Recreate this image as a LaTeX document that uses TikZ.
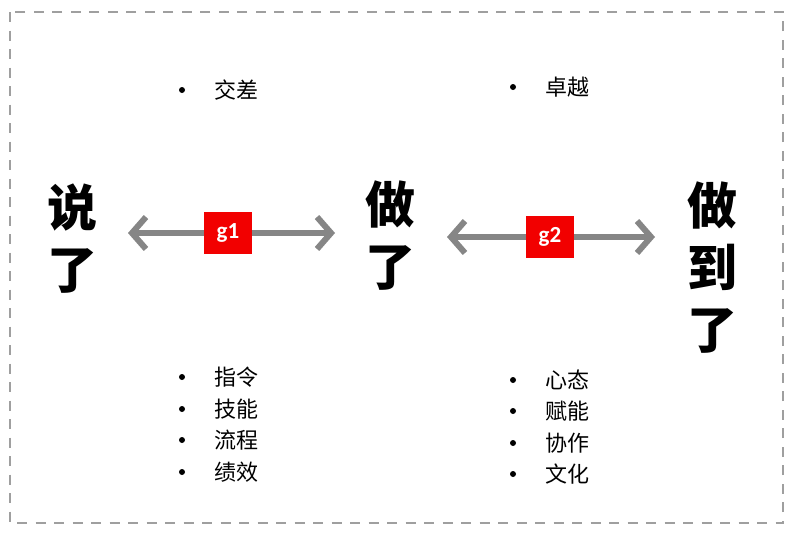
\documentclass[tikz,border=0pt]{standalone}
\usepackage{fontspec}
\usetikzlibrary{arrows.meta}
\newfontfamily\cjk{Noto Sans CJK SC}
\newfontfamily\lab{Carlito}

\tikzset{
  bigword/.style={font=\cjk\bfseries\fontsize{50}{62}\selectfont, align=center, inner sep=0pt},
  item/.style={font=\cjk\fontsize{22}{26}\selectfont, anchor=west, inner sep=0pt},
  gapbox/.style={fill=red!95!black, text=white, font=\lab\bfseries\fontsize{23}{23}\selectfont,
    minimum width=48pt, minimum height=42pt, inner sep=0pt},
  gaparrow/.style={draw=gray!95, line width=6pt,
    -{Straight Barb[length=14pt,width=32pt]}}
}

\begin{document}
\begin{tikzpicture}[x=1pt, y=-1pt]
  \useasboundingbox (0,0) rectangle (792,536);
  % Frame
  \draw[gray!75, line width=2.5pt, dash pattern=on 10pt off 8.5pt] (10,12) rectangle (783,523);

  % Stages
  \node[bigword] (said) at (72,239) {说\\了};
  \node[bigword] (done) at (390,236) {做\\了};
  \node[bigword] (achieved) at (712,268) {做\\到\\了};

  % Gaps
  \node[gapbox] (g1) at (228,233) {g1};
  \node[gapbox] (g2) at (550,237) {g2};
  \coordinate (g1l) at (128,233);
  \coordinate (g1r) at (335,233);
  \coordinate (g2l) at (447,237);
  \coordinate (g2r) at (655,237);
  \draw[gaparrow] (g1.west) -- (g1l);
  \draw[gaparrow] (g1.east) -- (g1r);
  \draw[gaparrow] (g2.west) -- (g2l);
  \draw[gaparrow] (g2.east) -- (g2r);

  % Bullet lists
  \foreach \txt/\x/\y [count=\i] in {交差/182/90, 卓越/513/87,
      指令/182/377, 技能/182/409, 流程/182/440, 绩效/182/472,
      心态/513/380, 赋能/513/411, 协作/513/443, 文化/513/474} {
    \fill (\x,\y) circle (3pt);
    \node[item] (item\i) at (\x+32,\y) {\txt};
  }
\end{tikzpicture}
\end{document}
